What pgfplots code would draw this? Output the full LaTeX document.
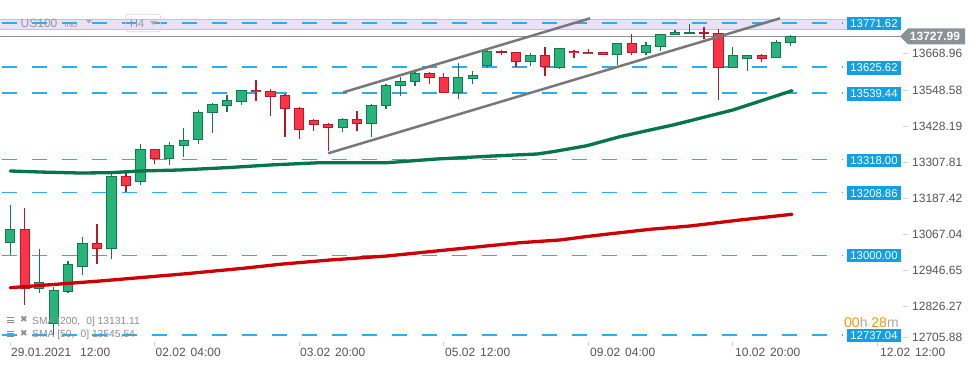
\documentclass[border=0pt]{standalone}
\usepackage{pgfplots}
\pgfplotsset{compat=1.18}
\usepackage{pgfplotstable}
\usepackage{fontspec}
\setmainfont{Liberation Sans}
\newfontfamily\djv{DejaVu Sans}
\definecolor{gfill}{RGB}{39,180,120}
\definecolor{gbord}{RGB}{22,120,80}
\definecolor{rfill}{RGB}{255,51,71}
\definecolor{rbord}{RGB}{178,28,42}
\definecolor{smag}{RGB}{4,118,72}
\definecolor{smar}{RGB}{204,0,0}
\definecolor{hblue}{RGB}{40,175,240}
\definecolor{lblue}{RGB}{19,159,227}
\definecolor{lav}{RGB}{232,226,244}
\definecolor{lavb}{RGB}{200,190,225}
\definecolor{pline}{RGB}{140,148,152}
\definecolor{tagc}{RGB}{138,146,152}
\definecolor{chan}{RGB}{120,120,120}
\definecolor{tgray}{RGB}{85,85,85}
\definecolor{ltgray}{RGB}{210,210,210}
\definecolor{hdr}{RGB}{150,150,162}
\definecolor{boxc}{RGB}{215,215,222}
\definecolor{leg}{RGB}{140,140,140}
\definecolor{orng}{RGB}{255,150,0}
\definecolor{hgray}{RGB}{170,170,170}

\pgfplotstableread{
k o h l c
0 13041.1 13168.1 13002.3 13087.5
2 12888.6 13022.2 12877.3 12911.8
3 12772.5 12897.2 12737.0 12886.3
4 12880.6 12982.4 12877.3 12971.5
5 12963.5 13063.0 12936.0 13041.1
7 13021.2 13273.2 12988.1 13264.3
9 13245.4 13370.4 13234.4 13352.8
11 13321.7 13377.0 13301.8 13366.1
12 13362.8 13422.5 13328.3 13382.7
13 13382.7 13483.1 13371.4 13475.5
14 13472.2 13505.4 13407.9 13502.0
15 13495.4 13531.9 13477.5 13515.3
16 13510.7 13551.1 13500.7 13548.5
23 13422.5 13455.6 13411.2 13452.3
25 13435.7 13502.0 13394.6 13498.7
26 13495.4 13568.4 13487.4 13565.0
27 13561.7 13592.6 13530.6 13578.3
28 13575.0 13610.1 13563.7 13604.8
31 13538.5 13639.0 13520.6 13591.6
32 13584.9 13612.5 13570.4 13598.2
33 13630.0 13682.1 13623.4 13677.8
36 13641.3 13671.2 13630.0 13664.5
38 13623.4 13687.7 13620.1 13687.7
42 13663.9 13704.3 13632.4 13704.3
44 13671.2 13707.6 13663.9 13697.7
45 13691.1 13734.2 13679.8 13734.2
46 13730.8 13747.4 13730.8 13740.8
47 13734.2 13767.3 13734.2 13740.8
50 13621.4 13691.1 13621.4 13664.5
51 13651.3 13664.5 13613.5 13664.5
53 13654.6 13715.3 13654.6 13707.6
54 13704.3 13732.8 13696.4 13728.0
}\gtab

\pgfplotstableread{
k o h l c
1 13087.5 13157.2 12836.5 12888.6
6 13041.1 13105.1 12972.5 13021.2
8 13264.3 13272.6 13210.2 13232.1
10 13352.8 13352.8 13305.1 13321.7
17 13548.5 13582.6 13514.0 13541.8
18 13544.5 13552.8 13464.2 13525.3
19 13531.9 13536.2 13394.6 13485.5
20 13488.8 13492.1 13388.0 13415.8
21 13449.0 13452.3 13414.5 13432.4
22 13435.7 13439.0 13347.2 13422.5
24 13452.3 13479.8 13414.5 13435.7
29 13604.8 13610.1 13568.4 13588.3
30 13591.6 13604.8 13538.5 13538.5
34 13677.8 13682.1 13666.5 13671.2
35 13674.5 13674.5 13626.7 13641.3
37 13664.5 13692.0 13596.9 13624.1
39 13677.8 13682.1 13656.6 13670.5
40 13674.5 13684.4 13667.2 13667.2
41 13674.5 13674.5 13663.9 13663.9
43 13704.3 13735.2 13663.9 13671.2
48 13740.8 13757.4 13717.6 13734.2
49 13737.5 13750.7 13516.3 13621.4
52 13664.5 13669.8 13643.3 13651.3
}\rtab

\begin{document}
\begin{tikzpicture}
\useasboundingbox (0,0) rectangle (970pt,368pt);
\fill[white] (0,0) rectangle (970pt,368pt);
\begin{axis}[at={(0,0)}, anchor=south west, scale only axis,
  width=970pt, height=368pt,
  xmin=-0.7128, xmax=66.415, ymin=12627.6, ymax=13847.9,
  hide axis, clip=false]
% resistance band
\addplot[fill=lav, draw=none] coordinates {(-0.7128,13751.8) (57.9,13751.8) (57.9,13784.9) (-0.7128,13784.9)} -- cycle;
\addplot[lavb, line width=0.8pt] coordinates {(-0.7128,13784.9) (57.9,13784.9)};
\addplot[lavb, line width=0.8pt] coordinates {(-0.7128,13751.8) (57.9,13751.8)};
% horizontal levels
\pgfplotsinvokeforeach{13771.62,13625.62,13539.44,13318.00,13208.86,13000.00,12737.04}{
  \addplot[hblue, line width=1.3pt, dash pattern=on 15pt off 15pt] coordinates {(-0.574,#1) (57.63,#1)};
}
% current price line
\addplot[pline, line width=1.3pt] coordinates {(-0.7128,13727.99) (61.57,13727.99)};
% wicks
\addplot[gbord, line width=1.3pt, -, quiver={u=0, v=\thisrow{h}-\thisrow{l}}] table[x=k, y=l] {\gtab};
\addplot[rbord, line width=1.3pt, -, quiver={u=0, v=\thisrow{h}-\thisrow{l}}] table[x=k, y=l] {\rtab};
% bodies (border then fill)
\addplot[gbord, line width=10.3pt, -, quiver={u=0, v={max(abs(\thisrow{c}-\thisrow{o}),2)}}] table[x=k, y expr={min(\thisrow{o},\thisrow{c})}] {\gtab};
\addplot[gfill, line width=8.3pt, -, quiver={u=0, v={max(abs(\thisrow{c}-\thisrow{o})-6.6,0)}}] table[x=k, y expr={min(\thisrow{o},\thisrow{c})+3.3}] {\gtab};
\addplot[rbord, line width=10.3pt, -, quiver={u=0, v={max(abs(\thisrow{c}-\thisrow{o}),2)}}] table[x=k, y expr={min(\thisrow{o},\thisrow{c})}] {\rtab};
\addplot[rfill, line width=8.3pt, -, quiver={u=0, v={max(abs(\thisrow{c}-\thisrow{o})-6.6,0)}}] table[x=k, y expr={min(\thisrow{o},\thisrow{c})+3.3}] {\rtab};
% SMA 50
\addplot[smag, line width=3.3pt, line join=round, line cap=round] coordinates {
(0,13280.9) (2.06,13277.5) (4.82,13274.2) (6.9,13275.2) (8.98,13280.9) (11.74,13284.2)
(15.2,13292.5) (17.97,13300.8) (21.43,13308.4) (26.07,13308.4) (29.53,13320.7) (33.4,13330.6)
(36.45,13337.2) (37.56,13344.9) (39.9,13364.7) (42.19,13394.6) (44.27,13416.8) (45.86,13433.4)
(50.0,13483.1) (54.1,13547.1)};
% SMA 200
\addplot[smar, line width=3.3pt, line join=round, line cap=round] coordinates {
(0,12893.9) (6.21,12916.1) (11.95,12939.3) (16.10,12958.2) (18.87,12972.5) (22.12,12985.7)
(26.07,12999.0) (30.64,13021.2) (35.27,13043.1) (38.04,13052.1) (39.91,13063.7) (42.19,13076.3)
(44.27,13087.5) (47.04,13098.5) (50.50,13118.4) (54.10,13137.3)};
% channel
\addplot[chan, line width=2.5pt] coordinates {(23.05,13541.8) (40.12,13787.2)};
\addplot[chan, line width=2.5pt] coordinates {(22.0,13339.6) (53.27,13787.2)};
\end{axis}

\begin{scope}[x=1pt,y=-1pt,yshift=368pt]
% header
\node[anchor=west, inner sep=0, text=hdr, font=\fontsize{12}{12}\selectfont] at (20.5,23.5) {US100};
\node[anchor=west, inner sep=0, text=hdr, font=\fontsize{7.5}{7.5}\selectfont] at (64.5,24.8) {IND};
\fill[hdr!80] (85.5,19.5) -- (92.5,19.5) -- (89,23.5) -- cycle;
\draw[boxc, rounded corners=2.5pt, line width=0.8pt] (125.7,14.3) rectangle (160.7,31.7);
\node[anchor=west, inner sep=0, text=hdr, font=\fontsize{11}{11}\selectfont] at (130,23.3) {H4};
\fill[hdr!80] (150,21) -- (157,21) -- (153.5,25) -- cycle;
% level labels
\foreach \v/\y in {13771.62/23.5, 13625.62/67.8, 13539.44/93.8, 13318.00/160.3, 13208.86/193.2, 13000.00/255.6, 12737.04/335.5}{
  \node[fill=lblue, text=white, font=\fontsize{11.3}{11}\selectfont, minimum width=54pt, minimum height=13.5pt, inner sep=0] at (874,\y) {\v};
}
% price scale
\foreach \v/\y in {13668.96/53.5, 13548.58/90, 13428.19/126.5, 13307.81/162.5, 13187.42/198.5, 13067.04/234.5, 12946.65/270.5, 12826.27/306.5, 12705.88/337}{
  \draw[ltgray, line width=0.8pt] (903,\y) -- (908,\y);
  \node[anchor=west, inner sep=0, text=tgray, font=\fontsize{12}{12}\selectfont] at (912,\y) {\v};
}
% current price tag
\fill[tagc] (900,36.3) -- (908,28.3) -- (965,28.3) -- (965,44.3) -- (908,44.3) -- cycle;
\node[inner sep=0, text=white, font=\fontsize{12}{12}\selectfont\bfseries] at (935,36.5) {13727.99};
% time axis
\foreach \x in {10.3,154.8,299.3,443.8,588.3,732.8,877.3}{
  \draw[ltgray, line width=0.8pt] (\x,342) -- (\x,346);
}
\node[anchor=west, inner sep=0, text=tgray, font=\fontsize{12}{12}\selectfont] at (11,352) {29.01.2021\hspace{9pt}12:00};
\node[anchor=west, inner sep=0, text=tgray, font=\fontsize{12}{12}\selectfont] at (155.5,352) {02.02\hspace{5pt}04:00};
\node[anchor=west, inner sep=0, text=tgray, font=\fontsize{12}{12}\selectfont] at (300,352) {03.02\hspace{5pt}20:00};
\node[anchor=west, inner sep=0, text=tgray, font=\fontsize{12}{12}\selectfont] at (445,352) {05.02\hspace{5pt}12:00};
\node[anchor=west, inner sep=0, text=tgray, font=\fontsize{12}{12}\selectfont] at (590,352) {09.02\hspace{5pt}04:00};
\node[anchor=west, inner sep=0, text=tgray, font=\fontsize{12}{12}\selectfont] at (735,352) {10.02\hspace{5pt}20:00};
\node[anchor=west, inner sep=0, text=tgray, font=\fontsize{12}{12}\selectfont] at (880,352) {12.02\hspace{5pt}12:00};
% legend
\foreach \y in {321.5,335}{
  \draw[leg, line width=1pt] (7,\y-4) -- (14,\y-4) (7,\y-1.5) -- (14,\y-1.5) (7,\y+1) -- (14,\y+1);
}
\node[inner sep=0, text=leg, font=\djv\fontsize{9}{9}\selectfont] at (24,319.5) {✖};
\node[inner sep=0, text=leg, font=\djv\fontsize{9}{9}\selectfont] at (24,333) {✖};
\node[anchor=west, inner sep=0, text=leg, font=\fontsize{10.3}{10}\selectfont] at (32,321.7) {SMA [200,\hspace{6pt}0] 13131.11};
\node[anchor=west, inner sep=0, text=leg, font=\fontsize{10.3}{10}\selectfont] at (32,335) {SMA [50,\hspace{6pt}0] 13545.54};
% countdown
\node[anchor=west, inner sep=0, font=\fontsize{14}{14}\selectfont] at (844,322.5) {\textcolor{orng}{00}\textcolor{hgray}{h} \textcolor{orng}{28}\textcolor{hgray}{m}};
\end{scope}
\end{tikzpicture}
\end{document}
